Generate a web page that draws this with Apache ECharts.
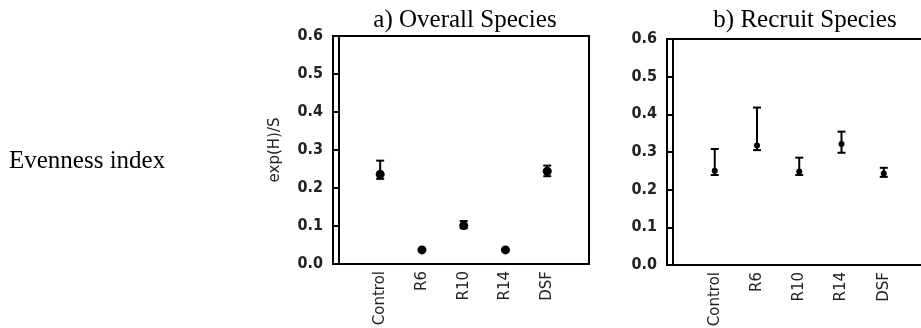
<!DOCTYPE html>
<html>
<head>
<meta charset="utf-8">
<script src="https://cdn.jsdelivr.net/npm/echarts@6/dist/echarts.min.js"></script>
<style>
html,body{margin:0;padding:0;background:#fff;}
#c{width:921px;height:328px;}
</style>
</head>
<body>
<div id="c"></div>
<script>
const categories = ['Control', 'R6', 'R10', 'R14', 'DSF'];
const overallMean  = [0.236, 0.037, 0.101, 0.037, 0.244];
const overallUpper = [0.272, 0.037, 0.113, 0.037, 0.259];
const overallLower = [0.224, 0.037, 0.094, 0.037, 0.231];
const recruitMean  = [0.250, 0.317, 0.248, 0.321, 0.243];
const recruitUpper = [0.308, 0.418, 0.285, 0.354, 0.258];
const recruitLower = [0.239, 0.305, 0.239, 0.298, 0.234];
const yTicks = [0, 0.1, 0.2, 0.3, 0.4, 0.5, 0.6];
const panelTitles = ['a) Overall Species', 'b) Recruit Species'];
const yName = 'exp(H)/S';
const sideLabel = 'Evenness index';

const chart = echarts.init(document.getElementById('c'), null, {renderer: 'canvas'});
const tickFont = {fontFamily: '"Liberation Sans Narrow", "DejaVu Sans Condensed", "Liberation Sans", sans-serif', fontWeight: 'bold', fontSize: 16, color: '#222'};
const catFont = {fontFamily: '"DejaVu Sans", Verdana, sans-serif', fontSize: 15, color: '#222'};

function xAxisFor(gi) {
  return {
    type: 'value', gridIndex: gi, min: -0.13, max: 6,
    axisLine: {show: true, onZero: false, lineStyle: {color: '#000', width: 2}},
    axisTick: {show: false},
    splitLine: {show: false},
    axisLabel: Object.assign({
      customValues: categories.map((c, i) => i + 1),
      formatter: v => categories[Math.round(v) - 1] || '',
      rotate: 90, margin: 7
    }, catFont)
  };
}
function yAxisFor(gi, withName) {
  return {
    type: 'value', gridIndex: gi, min: yTicks[0], max: yTicks[yTicks.length - 1], interval: 0.1,
    axisLine: {show: true, lineStyle: {color: '#000', width: 2}},
    axisTick: {show: true, length: 6, lineStyle: {color: '#000', width: 2}},
    splitLine: {show: false},
    axisLabel: Object.assign({formatter: v => v.toFixed(1), margin: 10}, tickFont),
    name: withName ? yName : '',
    nameLocation: 'middle', nameGap: 50, nameRotate: 90,
    nameTextStyle: {fontFamily: '"DejaVu Sans", Verdana, sans-serif', fontSize: 15, color: '#222'}
  };
}
function errSeries(gi, lower, upper, cap) {
  return {
    type: 'custom', xAxisIndex: gi, yAxisIndex: gi,
    data: categories.map((c, i) => [i + 1, lower[i], upper[i]]),
    renderItem: function (params, api) {
      const x = api.value(0);
      const lo = api.coord([x, api.value(1)]);
      const hi = api.coord([x, api.value(2)]);
      const st = {stroke: '#000', lineWidth: 2};
      if (Math.abs(lo[1] - hi[1]) < 0.5) return {type: 'group', children: []};
      return {type: 'group', children: [
        {type: 'line', shape: {x1: lo[0], y1: lo[1], x2: hi[0], y2: hi[1]}, style: st},
        {type: 'line', shape: {x1: hi[0] - cap, y1: hi[1], x2: hi[0] + cap, y2: hi[1]}, style: st},
        {type: 'line', shape: {x1: lo[0] - cap, y1: lo[1], x2: lo[0] + cap, y2: lo[1]}, style: st}
      ]};
    },
    z: 3
  };
}
function meanSeries(gi, mean, size) {
  return {
    type: 'scatter', xAxisIndex: gi, yAxisIndex: gi,
    data: categories.map((c, i) => [i + 1, mean[i]]),
    symbol: 'circle', symbolSize: size,
    itemStyle: {color: '#000', opacity: 1}, z: 4
  };
}

chart.setOption({
  animation: false,
  backgroundColor: '#fff',
  grid: [
    {left: 333, top: 36, width: 256, height: 228, show: true, borderColor: '#000', borderWidth: 2, backgroundColor: 'transparent', outerBoundsMode: 'none', containLabel: false},
    {left: 667, top: 39, width: 259, height: 226, show: true, borderColor: '#000', borderWidth: 2, backgroundColor: 'transparent', outerBoundsMode: 'none', containLabel: false}
  ],
  xAxis: [xAxisFor(0), xAxisFor(1)],
  yAxis: [yAxisFor(0, true), yAxisFor(1, false)],
  series: [
    errSeries(0, overallLower, overallUpper, 4),
    meanSeries(0, overallMean, 9),
    errSeries(1, recruitLower, recruitUpper, 4),
    meanSeries(1, recruitMean, 6)
  ],
  graphic: [
    {type: 'text', x: 465, y: 20, style: {text: panelTitles[0], fontFamily: '"Liberation Serif", "Times New Roman", serif', fontSize: 25, fill: '#000', align: 'center', verticalAlign: 'middle'}},
    {type: 'text', x: 805, y: 20, style: {text: panelTitles[1], fontFamily: '"Liberation Serif", "Times New Roman", serif', fontSize: 25, fill: '#000', align: 'center', verticalAlign: 'middle'}},
    {type: 'text', x: 9, y: 161, style: {text: sideLabel, fontFamily: '"Liberation Serif", "Times New Roman", serif', fontSize: 25, fill: '#000', align: 'left', verticalAlign: 'middle'}}
  ]
});
</script>
</body>
</html>
